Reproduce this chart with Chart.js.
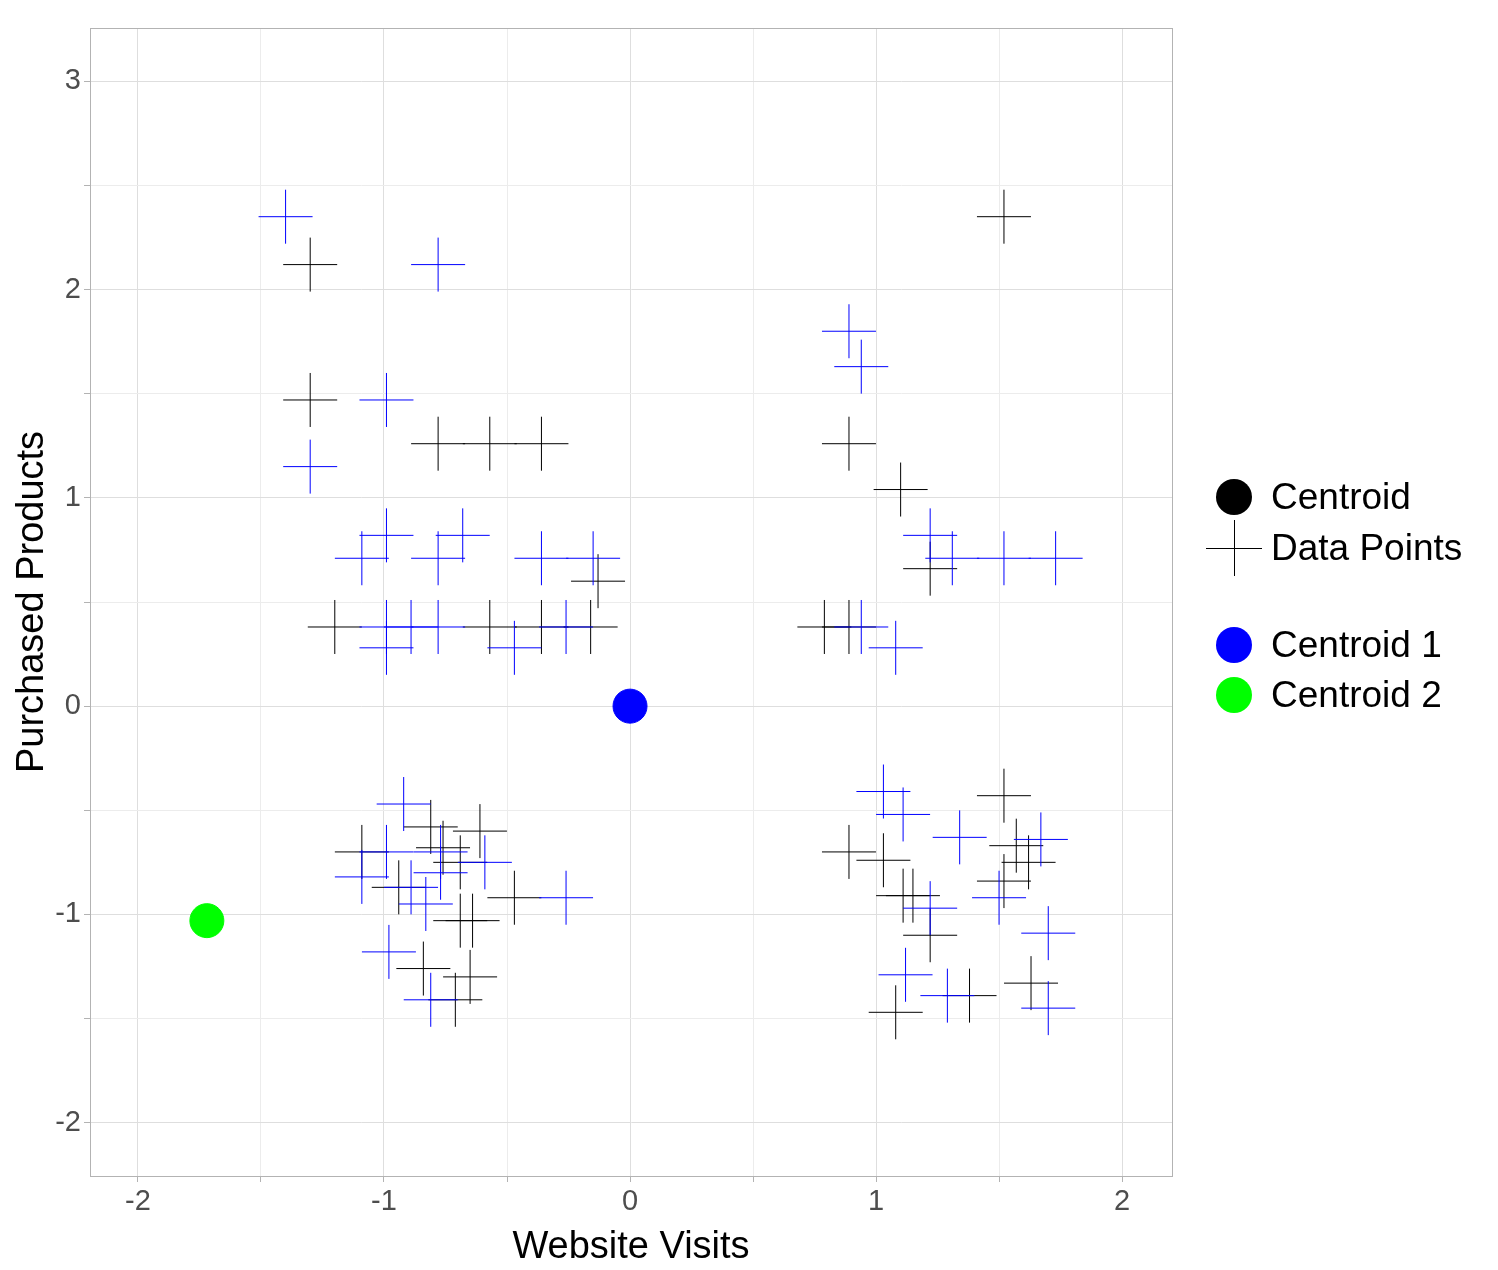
<!DOCTYPE html>
<html>
<head>
<meta charset="utf-8">
<script src="https://cdn.jsdelivr.net/npm/chart.js@4"></script>
<style>
body{margin:0;background:#fff;font-family:"Liberation Sans",Arial,sans-serif;}
#wrap{position:relative;width:1498px;height:1270px;}
.lg{position:absolute;left:1206px;height:50px;display:flex;align-items:center;font-size:37px;color:#000;}
.sym{width:56px;height:56px;position:relative;margin-right:9px;}
.dot{position:absolute;left:10px;top:10px;width:36px;height:36px;border-radius:50%;}
.h{position:absolute;left:0;top:28px;width:56px;height:1px;background:#000;}
.v{position:absolute;left:28px;top:0;width:1px;height:56px;background:#000;}
</style>
</head>
<body>
<div id="wrap">
<canvas id="c" width="1498" height="1270"></canvas>
<div class="lg" style="top:472px"><div class="sym"><div class="dot" style="background:#000"></div></div>Centroid</div>
<div class="lg" style="top:523px"><div class="sym"><div class="h"></div><div class="v"></div></div>Data Points</div>
<div class="lg" style="top:620px"><div class="sym"><div class="dot" style="background:#0000ff"></div></div>Centroid 1</div>
<div class="lg" style="top:670px"><div class="sym"><div class="dot" style="background:#00ff00"></div></div>Centroid 2</div>
</div>
<script>
var blueX=[-1.40,-0.78,-0.99,-1.30,-0.99,-1.09,-0.68,-0.78,-0.36,-0.15,-0.99,-0.89,-0.78,-0.26,-0.99,-0.47,
  0.89,0.94,1.22,1.31,1.52,1.73,0.94,1.08,
  -0.92,-0.99,-0.77,-1.09,-0.59,-0.89,-0.83,-0.26,-0.98,-0.81,-0.77,
  1.03,1.11,1.34,1.67,1.50,1.22,1.70,1.12,1.29,1.70];
var blueY=[2.35,2.12,1.47,1.15,0.82,0.71,0.82,0.71,0.71,0.71,0.38,0.38,0.38,0.38,0.28,0.28,
  1.80,1.63,0.82,0.71,0.71,0.71,0.38,0.28,
  -0.47,-0.70,-0.70,-0.82,-0.75,-0.87,-0.95,-0.92,-1.18,-1.41,-0.80,
  -0.41,-0.52,-0.63,-0.64,-0.92,-0.97,-1.09,-1.29,-1.39,-1.45];
var blackX=[-1.30,-1.30,-0.78,-0.57,-0.36,-0.13,-1.20,-0.57,-0.36,-0.16,
  1.52,0.89,1.10,1.22,0.79,0.89,
  -0.81,-0.61,-1.09,-0.69,-0.94,-0.47,-0.69,-0.64,-0.84,-0.65,-0.71,-0.76,
  1.52,0.89,1.03,1.57,1.62,1.52,1.11,1.15,1.22,1.63,1.08,1.38];
var blackY=[2.12,1.47,1.26,1.26,1.26,0.60,0.38,0.38,0.38,0.38,
  2.35,1.26,1.04,0.66,0.38,0.38,
  -0.58,-0.60,-0.70,-0.75,-0.87,-0.92,-1.03,-1.03,-1.26,-1.30,-1.41,-0.68,
  -0.43,-0.70,-0.74,-0.67,-0.75,-0.84,-0.91,-0.91,-1.10,-1.33,-1.47,-1.39];
var centroid1=[0,0];
var centroid2=[-1.72,-1.03];
var xTicks=[-2,-1.5,-1,-0.5,0,0.5,1,1.5,2];
var yTicks=[-2,-1.5,-1,-0.5,0,0.5,1,1.5,2,2.5,3];

function pts(xs,ys){return xs.map(function(x,i){return {x:x,y:ys[i]};});}
var tickFont={size:29,family:"Liberation Sans"};
function intOnly(v){return Math.abs(v-Math.round(v))<1e-9?Math.round(v):'';}
function gridCol(ctx){var v=ctx.tick&&ctx.tick.value;return (v!=null&&Math.abs(v-Math.round(v))<1e-9)?'#dedede':'#ececec';}

new Chart(document.getElementById('c'),{
  type:'scatter',
  data:{datasets:[
    {data:pts(blueX,blueY),pointStyle:'cross',radius:27,borderColor:'#0000ff',borderWidth:1,hoverRadius:27},
    {data:pts(blackX,blackY),pointStyle:'cross',radius:27,borderColor:'#000',borderWidth:1,hoverRadius:27},
    {data:[{x:centroid1[0],y:centroid1[1]}],pointStyle:'circle',radius:17,backgroundColor:'#0000ff',borderColor:'#0000ff'},
    {data:[{x:centroid2[0],y:centroid2[1]}],pointStyle:'circle',radius:17,backgroundColor:'#00ff00',borderColor:'#00ff00'}
  ]},
  options:{
    responsive:false,animation:false,
    layout:{padding:{top:13,right:326,left:10,bottom:0}},
    plugins:{legend:{display:false},tooltip:{enabled:false}},
    scales:{
      x:{min:-2.195,max:2.203,
        afterBuildTicks:function(s){s.ticks=xTicks.map(function(v){return {value:v};});},
        ticks:{callback:intOnly,font:tickFont,color:'#4d4d4d',autoSkip:false,maxRotation:0},
        grid:{color:gridCol,tickLength:6,tickColor:'#b3b3b3'},
        border:{color:'#b3b3b3'},
        title:{display:true,text:'Website Visits',font:{size:38,family:"Liberation Sans"},color:'#000',padding:0},
        afterFit:function(s){s.height=94;}},
      y:{min:-2.256,max:3.256,
        afterBuildTicks:function(s){s.ticks=yTicks.map(function(v){return {value:v};});},
        ticks:{callback:intOnly,font:tickFont,color:'#4d4d4d',autoSkip:false},
        grid:{color:gridCol,tickLength:6,tickColor:'#b3b3b3'},
        border:{color:'#b3b3b3'},
        title:{display:true,text:'Purchased Products',font:{size:38,family:"Liberation Sans"},color:'#000',padding:0},
        afterFit:function(s){s.width=80;}}
    }
  },
  plugins:[{id:'frame',afterDraw:function(ch){var a=ch.chartArea,c=ch.ctx;c.save();c.strokeStyle='#b3b3b3';c.lineWidth=1;c.strokeRect(a.left+0.5,a.top+0.5,a.right-a.left,a.bottom-a.top);c.restore();}}]
});
</script>
</body>
</html>
